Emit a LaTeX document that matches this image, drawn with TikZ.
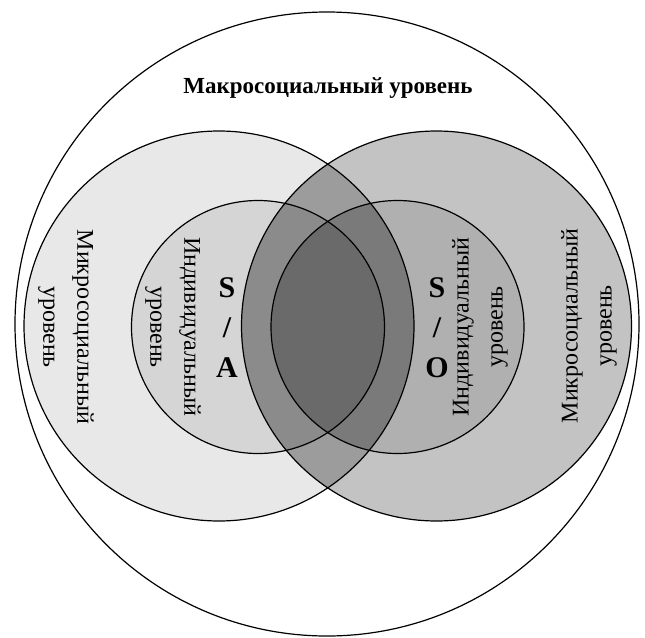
\documentclass[tikz,border=0pt]{standalone}
\usepackage{fontspec}
\setmainfont{Liberation Serif}
\definecolor{microA}{gray}{0.91}
\definecolor{indA}{gray}{0.835}
\definecolor{microO}{gray}{0.765}
\definecolor{indO}{gray}{0.69}
\definecolor{microAO}{gray}{0.61}
\definecolor{indAmicroO}{gray}{0.545}
\definecolor{indOmicroA}{gray}{0.48}
\definecolor{indAO}{gray}{0.415}
\begin{document}
\begin{tikzpicture}[x=1pt,y=-1pt,line width=1.2pt,
  vlabel/.style={align=center,inner sep=0pt,font=\fontsize{24}{34}\selectfont},
  sbox/.style={align=center,inner sep=0pt,font=\bfseries\fontsize{30}{40}\selectfont}]
\useasboundingbox (0,0) rectangle (645,637);
% centres of the circles
\coordinate (macro) at (327,324);
\coordinate (microL) at (219,326);
\coordinate (microR) at (436.5,326);
\coordinate (indL) at (258,327);
\coordinate (indR) at (397.5,327);

% fills
\fill[microA] (microL) circle[radius=195pt];
\fill[microO] (microR) circle[radius=195pt];
\begin{scope}
\clip (microL) circle[radius=195pt];
\fill[microAO] (microR) circle[radius=195pt];
\end{scope}
\fill[indA] (indL) circle[radius=126.5pt];
\begin{scope}
\clip (microR) circle[radius=195pt];
\fill[indAmicroO] (indL) circle[radius=126.5pt];
\end{scope}
\fill[indO] (indR) circle[radius=126.5pt];
\begin{scope}
\clip (microL) circle[radius=195pt];
\fill[indOmicroA] (indR) circle[radius=126.5pt];
\end{scope}
\begin{scope}
\clip (indL) circle[radius=126.5pt];
\fill[indAO] (indR) circle[radius=126.5pt];
\end{scope}

% outlines
\draw (macro) circle[radius=312pt];
\draw (microL) circle[radius=195pt];
\draw (microR) circle[radius=195pt];
\draw (indL) circle[radius=126.5pt];
\draw (indR) circle[radius=126.5pt];

% labels
\node[font=\bfseries\fontsize{23}{26}\selectfont] (title) at (328,88) {Макросоциальный уровень};
\node[vlabel,rotate=-90] (microLtext) at (66,327) {Микросоциальный\\уровень};
\node[vlabel,rotate=-90] (indLtext) at (173,327) {Индивидуальный\\уровень};
\node[vlabel,rotate=90] (indRtext) at (480,327) {Индивидуальный\\уровень};
\node[vlabel,rotate=90] (microRtext) at (589,326) {Микросоциальный\\уровень};
\node[sbox] (sa) at (227,328) {S\\/\\A};
\node[sbox] (so) at (437,328) {S\\/\\O};
\end{tikzpicture}
\end{document}
